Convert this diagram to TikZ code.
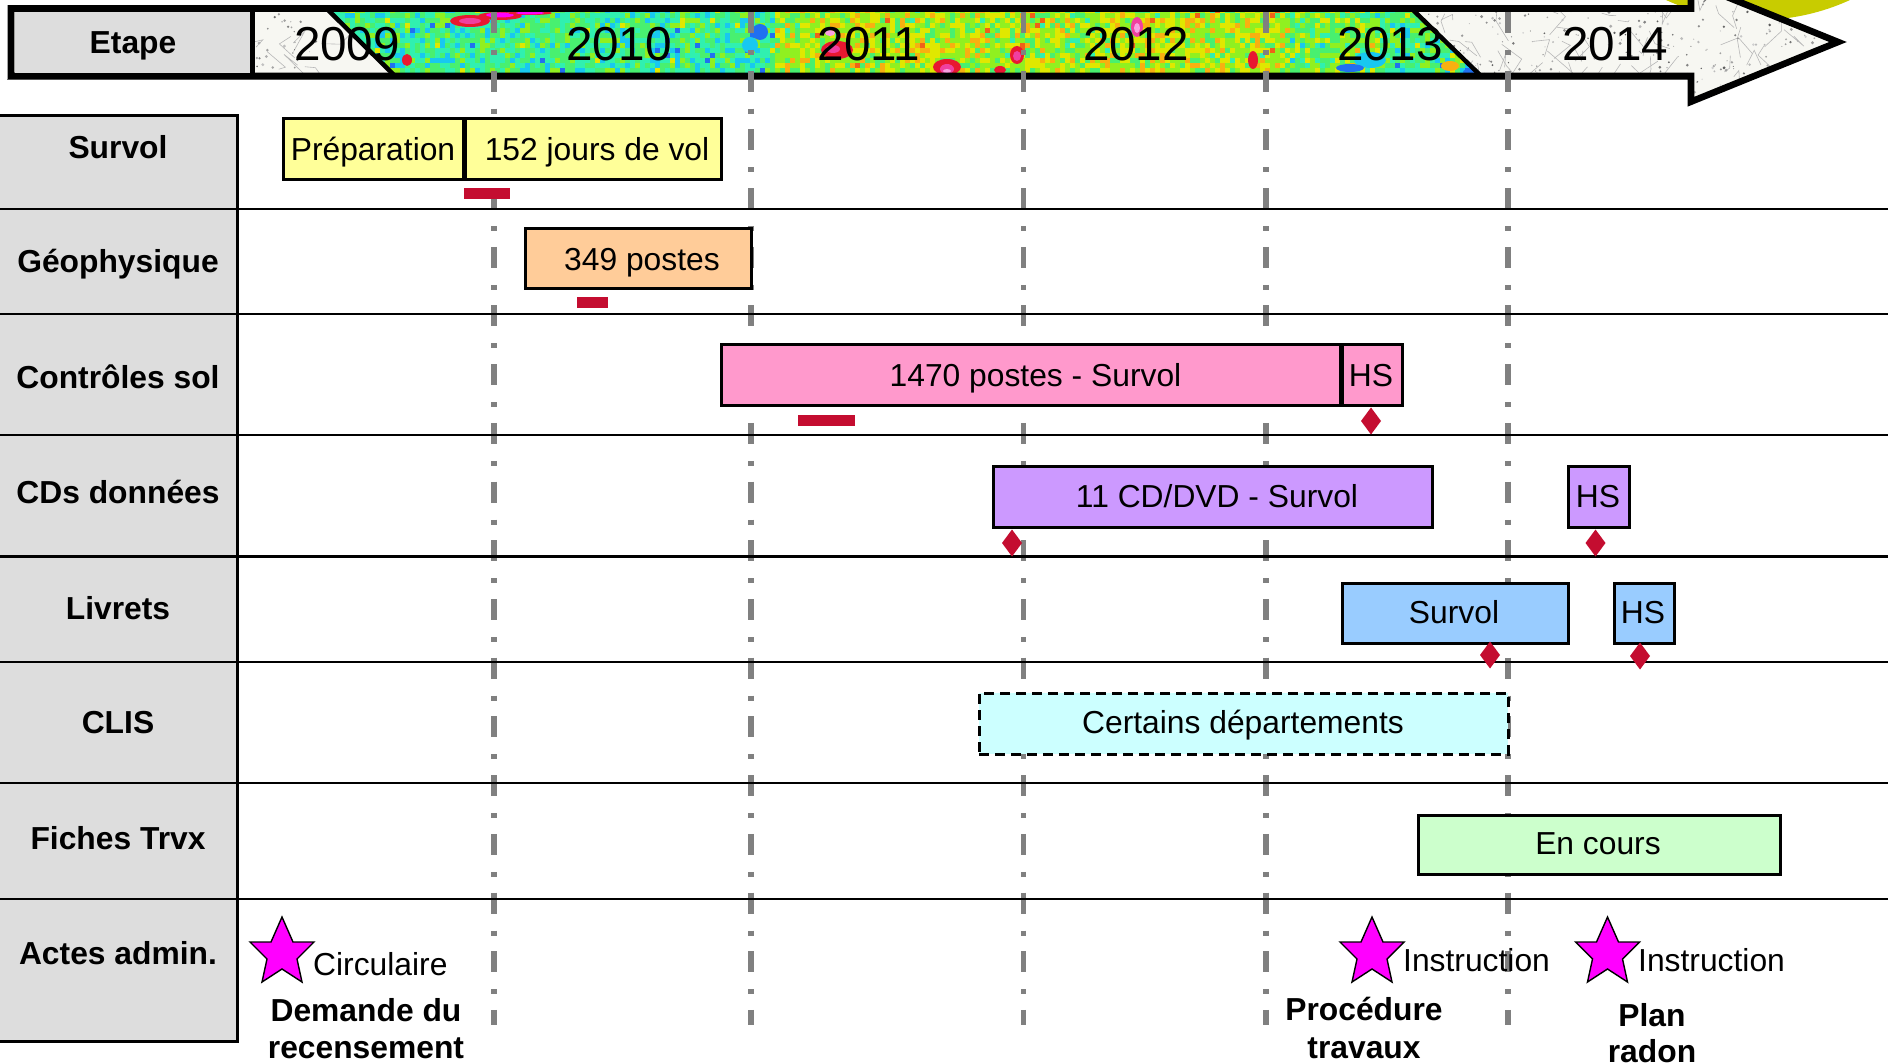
\documentclass[tikz,border=0pt]{standalone}
\usepackage{fontspec}
\setmainfont{Liberation Sans}
\usetikzlibrary{shapes.geometric}
\definecolor{labgrey}{HTML}{DDDDDD}
\definecolor{dashgrey}{HTML}{808080}
\definecolor{redmark}{HTML}{C40D30}
\definecolor{sun}{HTML}{C8CC00}
\definecolor{mapbase}{HTML}{F7F7F2}
\definecolor{cyellow}{HTML}{FFFF99}
\definecolor{corange}{HTML}{FFCC99}
\definecolor{cpink}{HTML}{FF99CC}
\definecolor{cviolet}{HTML}{CC99FF}
\definecolor{cblue}{HTML}{99CCFF}
\definecolor{ccyan}{HTML}{CCFFFF}
\definecolor{cgreen}{HTML}{CCFFCC}
\definecolor{purem}{HTML}{FF00FF}
\definecolor{hotred}{HTML}{E81830}
\definecolor{hotpink}{HTML}{F040A0}
\definecolor{palepink}{HTML}{F8A0E0}
\definecolor{nz0}{HTML}{2070F0}
\definecolor{nz1}{HTML}{18C8F0}
\definecolor{nz2}{HTML}{30F0B0}
\definecolor{nz3}{HTML}{48F070}
\definecolor{nz4}{HTML}{90F020}
\definecolor{nz5}{HTML}{E0E800}
\definecolor{nz6}{HTML}{F8B010}
\definecolor{nz7}{HTML}{F06018}
\tikzset{
  x=1pt,y=-1pt,
  txt/.style={inner sep=0pt,anchor=base,font=\fontsize{31.8}{36}\selectfont,text=black},
  lbl/.style={inner sep=0pt,anchor=base,font=\fontsize{31.8}{36}\selectfont\bfseries,text=black},
  yearlab/.style={inner sep=0pt,anchor=base,font=\fontsize{47.6}{52}\selectfont,text=black},
  barbox/.style={draw=black,line width=3pt,rectangle,inner sep=0pt,outer sep=0pt},
  redbar/.style={fill=redmark,rectangle,inner sep=0pt,outer sep=0pt},
  reddiam/.style={fill=redmark,diamond,inner sep=0pt,outer sep=0pt,minimum width=20pt,minimum height=27pt},
  sepline/.style={draw=black,line width=2.4pt},
  yearline/.style={draw=dashgrey,line width=5.5pt,dash pattern=on 21pt off 17pt on 5pt off 15.7pt},
  magstar/.pic={\draw[fill=purem,draw=black,line width=1.4pt,line join=miter]
    (0,0)--(11,25)--(32,25)--(15,42)--(20,65)--(0,52)--(-20,65)--(-15,42)--(-32,25)--(-11,25)--cycle;},
}
\newcommand{\barnode}[7][]{%
  \pgfmathsetmacro\bw{#4-#2-2}\pgfmathsetmacro\bh{#5-#3-2}%
  \node[barbox,fill=#6,minimum width=\bw pt,minimum height=\bh pt,#1] (#7) at ({(#2+#4)/2},{(#3+#5)/2}) {};}
\newcommand{\redrect}[5]{%
  \pgfmathsetmacro\bw{#4-#2}\pgfmathsetmacro\bh{#5-#3}%
  \node[redbar,minimum width=\bw pt,minimum height=\bh pt] (#1) at ({(#2+#4)/2},{(#3+#5)/2}) {};}
\begin{document}
\begin{tikzpicture}
\useasboundingbox (0,0) rectangle (1888,1064);
\clip (0,0) rectangle (1888,1064);
\fill[white] (0,0) rectangle (1888,1064);
% disc behind the arrow head
\fill[sun] (1758,-201) circle (221);
% shadow line
\draw[dashgrey,line width=1.2pt] (7,79.6) -- (1691,79.6);
% arrow interior
\begin{scope}
\clip (11,8.5) -- (1691,8.5) -- (1691,-17.7) -- (1838,42) -- (1691,101.7) -- (1691,76) -- (11,76) -- cycle;
\fill[mapbase] (0,-30) rectangle (1860,110);
\pgfmathsetseed{733}
\foreach \n in {1,...,80}{
  \pgfmathsetmacro\xa{ifthenelse(\n<10,255+70*rnd,1420+410*rnd)}
  \pgfmathsetmacro\ya{110*rnd-10}
  \pgfmathsetmacro\dxa{40*rnd-20}\pgfmathsetmacro\dya{40*rnd-20}
  \pgfmathsetmacro\dxb{40*rnd-20}\pgfmathsetmacro\dyb{40*rnd-20}
  \draw[black!28,line width=.6pt] (\xa,\ya) -- ++(\dxa,\dya) -- ++(\dxb,\dyb);
}
\foreach \n in {1,...,420}{
  \pgfmathsetmacro\xa{ifthenelse(\n<50,255+70*rnd,1420+410*rnd)}
  \pgfmathsetmacro\ya{110*rnd-10}
  \pgfmathsetmacro\ra{.5+1.1*rnd}
  \pgfmathsetmacro\gg{15+50*rnd}
  \fill[black!\gg] (\xa,\ya) circle (\ra);
}
% coloured survey band
\begin{scope}
\clip (328,12) -- (1413,12) -- (1481,76) -- (395,76) -- cycle;
\fill[nz3] (320,8) rectangle (1490,80);
\pgfmathsetseed{1888}
\foreach \i in {0,...,232}{
  \pgfmathsetmacro\xa{320+5*\i}
  \pgfmathsetmacro\bb{ifthenelse(\xa<620,0.38,ifthenelse(\xa<775,0.36,ifthenelse(\xa<1290,0.61,ifthenelse(\xa<1380,0.50,0.40))))}
  \foreach \j in {0,...,14}{
    \pgfmathsetmacro\ya{8+5*\j}
    \pgfmathtruncatemacro\idx{max(0,min(7,floor(8*(\bb+0.24*(rnd+rnd+rnd-1.5)))))}
    \fill[nz\idx] (\xa,\ya) rectangle +(6,6);
  }
}
% hot and cold spots
\foreach \cx/\cy/\rx/\ry/\cc in {
  470/21/20/6/hotred, 500/16/22/4/hotred, 470/21/11/3/hotpink, 500/15/14/2.5/purem,
  530/13/22/2/hotred, 530/13/14/1.5/purem,
  407/60/5/6/hotred,
  760/32/8/8/nz0, 750/45/8/8/nz1,
  837/50/16/9/hotred, 833/49/7/4/hotpink, 830/33/5/3/palepink,
  947/67/14/8/hotred, 947/69/7/5/hotpink, 947/71/4/2/palepink,
  1017/55/7/9/hotred, 1017/56/4/5/hotpink,
  1137/27/6/10/hotpink, 1137/28/3/5/palepink,
  1000/70/6/4/hotred, 1253/60/5/9/hotred,
  1370/60/16/8/nz1, 1350/68/14/4/nz0, 1450/66/9/5/nz6, 1470/72/7/3/nz0}{
  \fill[\cc] (\cx,\cy) ellipse ({\rx} and {\ry});
}
\end{scope}
% diagonal limits of the band
\draw[black,line width=4.5pt] (328,10) -- (395,76);
\draw[black,line width=4.5pt] (1413,10) -- (1481,76);
\end{scope}
% arrow outline
\draw[black,line width=6.6pt,miter limit=10]
  (11,8.5) -- (1691,8.5) -- (1691,-17.7) -- (1838,42) -- (1691,101.7) -- (1691,76) -- (11,76) -- cycle;
\fill[labgrey] (15,12) rectangle (250,73);
\fill[black] (250,10) rectangle (255,75);
% row label column
\draw[fill=labgrey,draw=black,line width=3pt] (-5,116) rectangle (237.5,1041);
% year lines
\coordinate (la) at (494,12);   \coordinate (lb) at (494,1025);
\coordinate (ma) at (751,12);   \coordinate (mb) at (751,1025);
\coordinate (na) at (1023.5,12);\coordinate (nb) at (1023.5,1025);
\coordinate (oa) at (1266,12);  \coordinate (ob) at (1266,1025);
\coordinate (pa) at (1508,12);  \coordinate (pb) at (1508,1025);
\draw[yearline] (la) -- (lb);
\draw[yearline] (ma) -- (mb);
\draw[yearline] (na) -- (nb);
\draw[yearline] (oa) -- (ob);
\draw[yearline] (pa) -- (pb);
% separators
\foreach \yy in {209,314,435,662,783,899}{\draw[sepline] (0,\yy) -- (1888,\yy);}
\draw[sepline,line width=3pt] (0,556) -- (1888,556);
% header text
\node[lbl] (etape) at (133,54) {Etape};
\node[yearlab] (y09) at (347,60.7) {2009};
\node[yearlab] (y10) at (619,60.7) {2010};
\node[yearlab] (y11) at (869,60.7) {2011};
\node[yearlab] (y12) at (1136,60.7) {2012};
\node[yearlab] (y13) at (1390,60.7) {2013};
\node[yearlab] (y14) at (1615,60.7) {2014};
% row labels
\node[lbl] (r1) at (118,159) {Survol};
\node[lbl] (r2) at (118,272.5) {Géophysique};
\node[lbl] (r3) at (118,389) {Contrôles sol};
\node[lbl] (r4) at (118,503.5) {CDs données};
\node[lbl] (r5) at (118,619.5) {Livrets};
\node[lbl] (r6) at (118,733.5) {CLIS};
\node[lbl] (r7) at (118,849) {Fiches Trvx};
\node[lbl] (r8) at (118,964) {Actes admin.};
% bars
\barnode{282}{118}{464}{181}{cyellow}{b1}
\barnode{464}{118}{722}{181}{cyellow}{b2}
\barnode{524}{228}{752}{290}{corange}{b3}
\barnode{720}{344}{1341}{407}{cpink}{b4}
\barnode{1341}{344}{1403}{407}{cpink}{b5}
\barnode{992.5}{465}{1433}{528}{cviolet}{b6}
\barnode{1567.5}{465}{1630}{528}{cviolet}{b7}
\barnode{1341}{582}{1569}{644}{cblue}{b8}
\barnode{1613}{582}{1675}{644}{cblue}{b9}
\barnode[dash pattern=on 10pt off 6pt]{978}{692}{1509}{755}{ccyan}{b10}
\barnode{1417}{814}{1781}{875}{cgreen}{b11}
% bar texts
\node[txt] (t1) at (373,161) {Préparation};
\node[txt] (t2) at (597,161) {152 jours de vol};
\node[txt] (t3) at (642,271) {349 postes};
\node[txt] (t4) at (1035.5,387) {1470 postes - Survol};
\node[txt] (t5) at (1371,387) {HS};
\node[txt] (t6) at (1217,507) {11 CD/DVD - Survol};
\node[txt] (t7) at (1598,507) {HS};
\node[txt] (t8) at (1454,623) {Survol};
\node[txt] (t9) at (1643,623) {HS};
\node[txt] (t10) at (1243,733) {Certains départements};
\node[txt] (t11) at (1598,854) {En cours};
% red marks
\redrect{m1}{464}{188}{510}{199}
\redrect{m2}{577}{297}{608}{308}
\redrect{m3}{798}{415}{855}{426}
\node[reddiam] (d1) at (1371,421) {};
\node[reddiam] (d2) at (1012,543) {};
\node[reddiam] (d3) at (1595.5,543) {};
\node[reddiam] (d4) at (1490,655) {};
\node[reddiam] (d5) at (1640,656) {};
% acts
\pic (s1) at (282,917) {magstar};
\pic (s2) at (1372,917) {magstar};
\pic (s3) at (1607.5,917) {magstar};
\node[txt,anchor=base west] (a1) at (313,975) {Circulaire};
\node[txt,anchor=base west] (a2) at (1403,971) {Instruction};
\node[txt,anchor=base west] (a3) at (1638,971) {Instruction};
\node[lbl] (c1) at (366,1021) {Demande du};
\node[lbl] (c2) at (366,1058) {recensement};
\node[lbl] (c3) at (1364,1020) {Procédure};
\node[lbl] (c4) at (1364,1058) {travaux};
\node[lbl] (c5) at (1652,1026) {Plan};
\node[lbl] (c6) at (1652,1062) {radon};
\end{tikzpicture}
\end{document}
